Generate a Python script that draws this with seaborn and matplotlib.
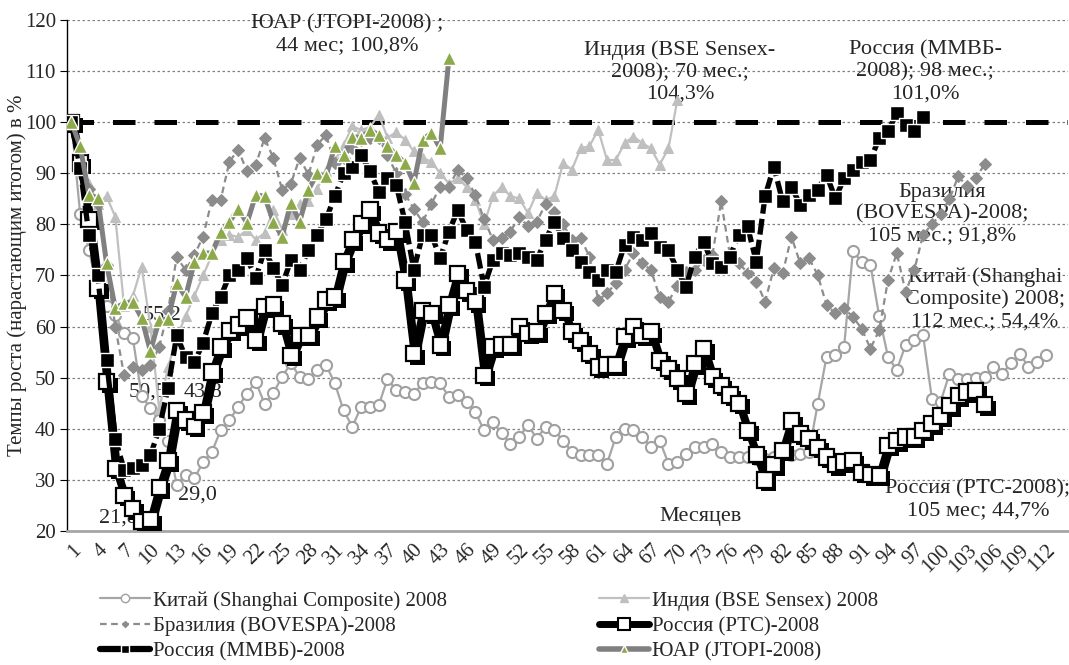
import matplotlib
matplotlib.use("Agg")
import matplotlib.pyplot as plt
import matplotlib.patheffects as pe
from matplotlib.lines import Line2D
import pandas as pd
import seaborn as sns

# ---------------- data ----------------
china = [100, 82, 75, 67, 64, 62.3, 58.7, 57.7, 46.5, 44,
         41.7, 37.7, 29.0, 31, 30.3, 33.5, 35.5, 39.7, 41.7, 44.3,
         46.9, 49.2, 44.9, 47, 50.2, 52.8, 50.2, 49.8, 51.5, 52.5,
         48.9, 43.6, 40.4, 44.3, 44.3, 44.6, 49.8, 47.5, 47.2, 46.9,
         48.9, 49.2, 48.9, 46.2, 46.6, 45.3, 43.3, 39.7, 41.3, 39.1,
         37.1, 38.4, 40.7, 38.1, 40.4, 39.7, 37.7, 35.5, 34.8, 34.8,
         34.8, 33.2, 38.4, 40, 39.7, 38.4, 36.4, 37.7, 33.2, 33.5,
         35.1, 36.4, 36.5, 37.1, 35.5, 34.5, 34.5, 34.5, 34.1, 34,
         34.5, 35, 34.8, 35, 35.5,
         44.9, 54.1, 54.4, 56, 74.7, 72.7, 72.1, 62, 54.1, 51.5,
         56.4, 57.4, 58.3, 45.9, 45.3, 50.8, 49.8, 49.8, 50, 50.2,
         52.1, 50.8, 52.8, 54.7, 52.1, 53.1, 54.4]

india = [100, 93, 88, 84, 85.5, 81.5, 64, 66, 71.7, 60,
         43.8, 52, 58, 62, 66, 70, 74, 77, 78, 77.5,
         79, 77, 78.3, 82.8, 79, 82, 84, 84.5, 87, 90.5,
         92.5, 95.5, 99.2, 98.5, 99, 101.5, 97, 98, 96.6, 94.3,
         93, 92.3, 90, 88, 89, 87.4, 84.8, 80, 85.5, 87.4,
         85.5, 85.1, 82.2, 86.1, 84.8, 85.5, 92, 90.7, 94.9, 95.3,
         98.5, 92.6, 92.6, 95.9, 97.2, 95.9, 94.9, 91.7, 94.9, 104.3]

brazil = [100, 94, 87, 84, 72, 60, 50.5, 52.1, 51.5, 52.5,
          56, 63, 73.7, 71, 74, 77.6, 84.8, 84.8, 92.3, 94.6,
          90.4, 91.7, 96.9, 93, 86.8, 88, 93, 89.7, 95.6, 97.5,
          92, 93, 95, 96.5, 97, 97, 93.5, 90, 86, 83,
          80.5, 84, 87.4, 87.4, 90.7, 89, 85.8, 81, 77, 77.3,
          78.6, 81.5, 79.6, 80.5, 84, 82.5, 80, 77, 77.3, 73.7,
          65.2, 66.5, 68.5, 71.1, 74.4, 72.4, 71.1, 65.8, 64.9, 68,
          70.7, 71, 73, 74, 84.5, 74, 72.5, 70.5, 68.8, 64.9,
          71.4, 70.4, 77.6, 72.4, 73.4, 70.1, 64.2, 62.6, 63.6, 61.9,
          59.6, 55.7, 59.3, 69.1, 74.4, 66.8, 71.1, 78, 80, 82,
          85, 89.4, 87.5, 89, 91.8]

rts = [100, 92, 81, 67.5, 49.2, 32.3, 27, 24.4, 21.8, 22.2,
       28.5, 33.8, 43.6, 41.7, 40.5, 43.2, 51.1, 56, 59.3, 60.3,
       61.7, 57.4, 63.9, 64.2, 60.6, 54.4, 58.3, 58.3, 61.9, 65.2,
       65.8, 72.7, 77, 80.2, 82.8, 78.3, 77, 78.6, 69.1, 54.7,
       63.2, 62.6, 56.4, 64.2, 70.4, 67, 64.9, 50.5, 56, 56.4,
       56.4, 60, 58.7, 59, 62.6, 66.5, 63.2, 59, 57.3, 54.8,
       52.1, 52.5, 52.5, 58, 60, 58.3, 59, 53.4, 51.8, 49.8,
       46.9, 52.8, 55.7, 50.2, 48.5, 46.6, 45, 39.7, 35, 30,
       33, 35.8, 41.5, 39, 38.1, 36.4, 34.5, 33, 33.5, 33.8,
       31.5, 31, 30.9, 36.8, 37.7, 38.4, 38.4, 39.7, 41, 42.5,
       44.5, 46.5, 47.2, 47.5, 44.7]

micex = [100, 91, 78, 70, 53.5, 38, 32, 32.3, 33, 34.8,
         40, 48, 58.3, 54, 53, 56.8, 62.6, 65.8, 70.1, 71,
         73.4, 69.5, 75, 71.5, 68.1, 73, 71.1, 75, 78, 81,
         85.5, 90, 91.3, 93.6, 90.4, 86.4, 89, 87.7, 80.5, 71.1,
         78, 78, 73.4, 78.6, 82.8, 78.9, 76.6, 67.8, 73, 74.4,
         74, 74.4, 73.7, 73, 77, 80.5, 77.3, 75, 72.7, 70.7,
         69.1, 71.1, 70.7, 76, 77.6, 77, 78.3, 75.6, 75, 71.1,
         67.8, 73.7, 76.6, 72.4, 71.7, 73.7, 78, 79.6, 72.7, 85.5,
         91.3, 84.5, 87.4, 83.8, 85.8, 86.8, 89.7, 85.1, 89, 90.7,
         92.3, 92.6, 96.9, 98.2, 101.8, 99.5, 98.2, 101]

sa = [100, 95.3, 85.8, 85.2, 72.4, 63.6, 64.6, 64.8, 61.7, 55.2,
      61.3, 61.5, 68.5, 65.8, 72.6, 74.4, 74.4, 78.5, 80.5, 83,
      80.3, 85.8, 85.5, 80.5, 77.6, 84.2, 80.5, 86.8, 90, 89.4,
      95.3, 93.6, 97.2, 96.9, 98.5, 97.5, 95.3, 93.6, 92, 88.1,
      96.6, 97.9, 94.9, 112.6]

base_level = 100
tick_months = list(range(1, 113, 3))
names = ["Китай (Shanghai Composite) 2008", "Индия (BSE Sensex) 2008",
         "Бразилия (BOVESPA)-2008", "Россия (РТС)-2008",
         "Россия (ММВБ)-2008", "ЮАР (JTOPI-2008)"]

# ---------------- style ----------------
sns.set_style("white")
plt.rcParams["font.family"] = ["Liberation Serif", "DejaVu Serif"]

W, H = 1069, 665
fig = plt.figure(figsize=(W / 100, H / 100), dpi=100)
ax = fig.add_axes([67 / W, 1 - 531 / H, 1001 / W, 511 / H])


def frame(vals):
    return pd.DataFrame({"m": range(1, len(vals) + 1), "v": vals})


ax.hlines(base_level, 1, 114.5, colors="black", linewidth=3.6,
          linestyles=(0, (4.5, 3.8)), zorder=1.5)

# China
sns.lineplot(data=frame(china), x="m", y="v", ax=ax, errorbar=None,
             color="#A6A6A6", linewidth=1.6, marker="o", markersize=8,
             markerfacecolor="white", markeredgecolor="#A0A0A0",
             markeredgewidth=1.5, zorder=3)
# India
sns.lineplot(data=frame(india), x="m", y="v", ax=ax, errorbar=None,
             color="#C0C0C0", linewidth=1.6, marker="^", markersize=7.5,
             markerfacecolor="#BFBFBF", markeredgecolor="#BFBFBF",
             zorder=3.1)
# Brazil
sns.lineplot(data=frame(brazil), x="m", y="v", ax=ax, errorbar=None,
             color="#8C8C8C", linewidth=1.6, linestyle=(0, (3, 2)),
             marker="D", markersize=6, markerfacecolor="#8C8C8C",
             markeredgecolor="#8C8C8C", zorder=3.2)
# Russia RTS: thick black line + white squares with shadow
sns.lineplot(data=frame(rts), x="m", y="v", ax=ax, errorbar=None,
             color="black", linewidth=4.5, zorder=3.3,
             path_effects=[pe.SimpleLineShadow(offset=(2, -2), shadow_color="black", alpha=1),
                           pe.Normal()])
sns.lineplot(data=frame(rts), x="m", y="v", ax=ax, errorbar=None,
             color="black", linestyle="none", marker="s", markersize=11,
             markerfacecolor="white", markeredgecolor="black",
             markeredgewidth=1.6, zorder=3.35,
             path_effects=[pe.SimplePatchShadow(offset=(2.5, -2.5), shadow_rgbFace="black", alpha=1),
                           pe.Normal()])
# Russia MICEX
sns.lineplot(data=frame(micex), x="m", y="v", ax=ax, errorbar=None,
             color="black", linewidth=3.8, linestyle=(0, (3, 1)),
             marker="s", markersize=10, markerfacecolor="black",
             markeredgecolor="white", markeredgewidth=1.0, zorder=3.4)
# South Africa
sns.lineplot(data=frame(sa), x="m", y="v", ax=ax, errorbar=None,
             color="#808080", linewidth=3.6, marker="^", markersize=10,
             markerfacecolor="#8DAA4A", markeredgecolor="white",
             markeredgewidth=1.0, zorder=3.5)

# ---------------- axes ----------------
ax.set_xlim(0.5, 114.5)
ax.set_ylim(20, 120)
ax.set_yticks(range(20, 121, 10))
ax.yaxis.grid(True, linestyle=(0, (2, 2)), color="#808080", linewidth=0.9)
ax.xaxis.grid(False)
ax.set_axisbelow(True)
for s in ["top", "right"]:
    ax.spines[s].set_visible(False)
ax.spines["left"].set_color("black")
ax.spines["left"].set_linewidth(1.0)
ax.spines["bottom"].set_color("#A6A6A6")
ax.spines["bottom"].set_linewidth(2.0)

ax.set_xticks(range(1, 115))
ax.set_xticklabels([str(m) if m in tick_months else "" for m in range(1, 115)],
                   rotation=45, ha="right", rotation_mode="anchor", fontsize=15)
ax.tick_params(axis="x", length=4, color="#A0A0A0", pad=3)
ax.tick_params(axis="y", length=5, color="black", labelsize=15, left=True, pad=3)
ax.set_xlabel("")
ax.set_ylabel("Темпы роста (нарастающим итогом) в %", fontsize=15)
ax.yaxis.set_label_coords((27 - 67) / 1001, 0.5)


def ftext(px, py, s, **kw):
    kw.setdefault("fontsize", 16)
    kw.setdefault("ha", "center")
    kw.setdefault("va", "center")
    kw.setdefault("linespacing", 1.2)
    ax.text(px / W, 1 - py / H, s, transform=fig.transFigure, zorder=1, **kw)


ftext(347, 35, "ЮАР (JTOPI-2008) ;\n44 мес; 100,8%")
ftext(680, 72, "Индия (BSE Sensex-\n2008); 70 мес.;\n104,3%")
ftext(925, 72, "Россия (ММВБ-\n2008); 98 мес.;\n101,0%")
ftext(942, 214, "Бразилия\n(BOVESPA)-2008;\n105 мес.; 91,8%")
ftext(985, 299, "Китай (Shanghai\nComposite) 2008;\n112 мес.; 54,4%")
ftext(978, 500, "Россия (РТС-2008);\n105 мес; 44,7%")
ftext(700, 517, "Месяцев")
ftext(162, 315, "55,2")
ftext(148, 392, "50,5")
ftext(203, 392, "43,8")
ftext(197, 495, "29,0")
ftext(118, 518, "21,8")

# ---------------- legend ----------------
h_china = Line2D([], [], color="#A6A6A6", linewidth=1.6, marker="o", markersize=6,
                 markerfacecolor="white", markeredgecolor="#A0A0A0")
h_india = Line2D([], [], color="#C0C0C0", linewidth=1.6, marker="^", markersize=6,
                 markerfacecolor="#BFBFBF", markeredgecolor="#BFBFBF")
h_brazil = Line2D([], [], color="#8C8C8C", linewidth=1.6, linestyle=(0, (3, 2)),
                  marker="D", markersize=3, markerfacecolor="#8C8C8C", markeredgecolor="#8C8C8C")
h_rts = Line2D([], [], color="black", linewidth=5, marker="s", markersize=8,
               markerfacecolor="white", markeredgecolor="black", markeredgewidth=1.5)
h_micex = Line2D([], [], color="black", linewidth=4.5, marker="s", markersize=6,
                 markerfacecolor="black", markeredgecolor="white")
h_sa = Line2D([], [], color="#808080", linewidth=4, marker="^", markersize=6,
              markerfacecolor="#8DAA4A", markeredgecolor="white")
handles = [h_china, h_brazil, h_micex, h_india, h_rts, h_sa]
labels = [names[0], names[2], names[4], names[1], names[3], names[5]]
fig.legend(handles, labels, ncol=2, loc="upper left",
           bbox_to_anchor=(100 / W, 1 - 591 / H), frameon=False, fontsize=15,
           handlelength=2.4, handletextpad=0.15, columnspacing=7.3,
           labelspacing=0.28, borderpad=0, borderaxespad=0)

fig.savefig("out.png", dpi=100)
